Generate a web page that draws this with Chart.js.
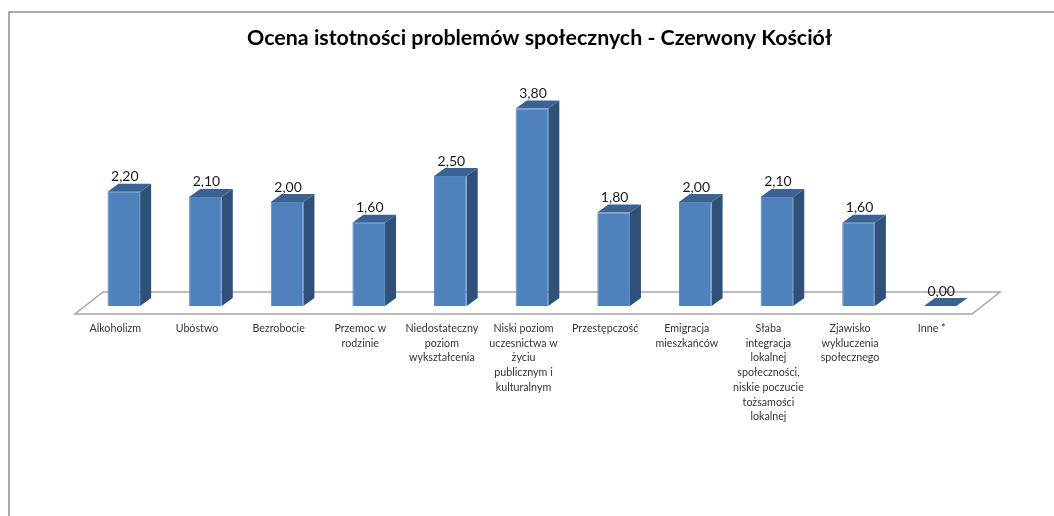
<!DOCTYPE html>
<html>
<head>
<meta charset="utf-8">
<title>Ocena istotności problemów społecznych</title>
<script src="https://cdn.jsdelivr.net/npm/chart.js@4"></script>
<style>
  html, body { margin: 0; padding: 0; background: #fff; }
  #wrap { width: 1054px; height: 516px; }
</style>
</head>
<body>
<div id="wrap"><canvas id="chart" width="1054" height="516"></canvas></div>
<script>
const chartTitle = "Ocena istotności problemów społecznych - Czerwony Kościół";
const categories = [
  "Alkoholizm",
  "Ubóstwo",
  "Bezrobocie",
  ["Przemoc w", "rodzinie"],
  ["Niedostateczny", "poziom", "wykształcenia"],
  ["Niski poziom", "uczesnictwa w", "życiu", "publicznym i", "kulturalnym"],
  "Przestępczość",
  ["Emigracja", "mieszkańców"],
  ["Słaba", "integracja", "lokalnej", "społeczności,", "niskie poczucie", "tożsamości", "lokalnej"],
  ["Zjawisko", "wykluczenia", "społecznego"],
  "Inne *",
];
const scores = [2.2, 2.1, 2.0, 1.6, 2.5, 3.8, 1.8, 2.0, 2.1, 1.6, 0.0];

const DEPTH_X = 11;
const DEPTH_Y = 8;

function poly(ctx, pts, fill) {
  ctx.beginPath();
  pts.forEach((p, i) => (i ? ctx.lineTo(p[0], p[1]) : ctx.moveTo(p[0], p[1])));
  ctx.closePath();
  ctx.fillStyle = fill;
  ctx.fill();
}

// frame, floor and the side/top faces of the bars
const box3d = {
  id: "box3d",
  afterLayout(chart) {
    // title sits a little right of the plot centre
    chart.titleBlock.left += 15;
  },
  beforeDraw(chart) {
    const { ctx } = chart;
    ctx.save();
    ctx.strokeStyle = "#8c8c8c";
    ctx.lineWidth = 1.5;
    ctx.beginPath();
    ctx.moveTo(9, 516);
    ctx.lineTo(9, 12);
    ctx.lineTo(1054, 12);
    ctx.stroke();
    ctx.restore();
  },
  beforeDatasetsDraw(chart) {
    const { ctx, chartArea: a } = chart;
    ctx.save();
    ctx.strokeStyle = "#a6a6a6";
    ctx.lineWidth = 1.5;
    ctx.beginPath();
    ctx.moveTo(a.left - 8, a.bottom + 8);
    ctx.lineTo(a.right - 9, a.bottom + 8);
    ctx.lineTo(a.right + 19, a.bottom - 14);
    ctx.lineTo(a.left + 20, a.bottom - 14);
    ctx.closePath();
    ctx.stroke();
    chart.getDatasetMeta(0).data.forEach((bar) => {
      const l = bar.x - bar.width / 2;
      const r = bar.x + bar.width / 2;
      const t = bar.y;
      const b = bar.base;
      poly(ctx, [[r, t], [r + DEPTH_X, t - DEPTH_Y], [r + DEPTH_X, b - DEPTH_Y], [r, b]], "#2f5179");
      poly(ctx, [[l, t], [l + DEPTH_X, t - DEPTH_Y], [r + DEPTH_X, t - DEPTH_Y], [r, t]], "#3a6292");
    });
    ctx.restore();
  },
  afterDatasetsDraw(chart) {
    const { ctx } = chart;
    ctx.save();
    ctx.font = "14px Lato";
    ctx.fillStyle = "#1a1a1a";
    ctx.textAlign = "center";
    ctx.textBaseline = "middle";
    chart.getDatasetMeta(0).data.forEach((bar, i) => {
      ctx.fillText(scores[i].toFixed(2).replace(".", ","), bar.x + 1, bar.y - 15);
    });
    ctx.restore();
  },
};

new Chart(document.getElementById("chart"), {
  type: "bar",
  data: {
    labels: categories,
    datasets: [{
      data: scores,
      backgroundColor: "#4f81bd",
      borderColor: "#5585c0",
      borderWidth: 1,
      barPercentage: 0.4,
      categoryPercentage: 1,
    }],
  },
  options: {
    responsive: false,
    animation: false,
    layout: { padding: { left: 83, right: 73, top: 25 } },
    plugins: {
      legend: { display: false },
      tooltip: { enabled: false },
      title: {
        display: true,
        text: chartTitle,
        color: "#000",
        font: { family: "Lato", size: 21.4, weight: "bold" },
        padding: { top: 0, bottom: 47.5 },
      },
    },
    scales: {
      x: {
        grid: { display: false, drawTicks: false },
        border: { display: false },
        afterFit(scale) { scale.height = 210; },
        ticks: {
          autoSkip: false,
          maxRotation: 0,
          minRotation: 0,
          labelOffset: -8.5,
          padding: 15,
          color: "#333",
          font: { family: "Lato", size: 10.7, lineHeight: 1.38 },
        },
      },
      y: { display: false, min: 0, max: 4 },
    },
  },
  plugins: [box3d],
});
</script>
</body>
</html>
